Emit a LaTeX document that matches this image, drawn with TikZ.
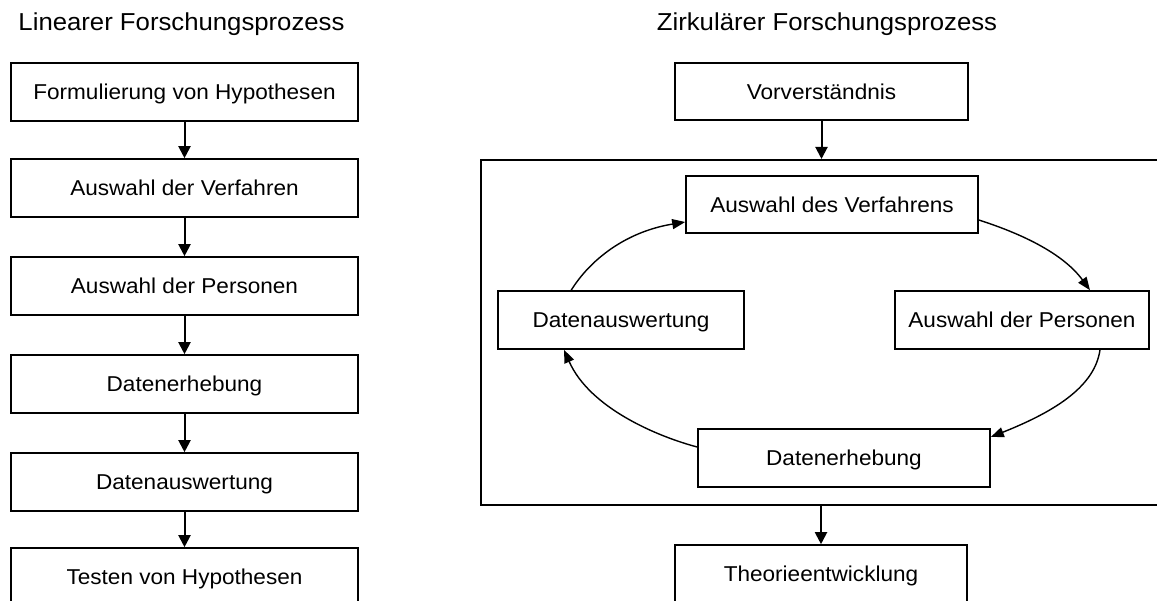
\documentclass[tikz,border=0pt]{standalone}
\usepackage{fontspec}
\setmainfont[FakeStretch=1.05]{Liberation Sans}
\usetikzlibrary{arrows.meta}
\begin{document}
\begin{tikzpicture}[x=1pt,y=-1pt,
  box/.style={draw, line width=1.6pt, minimum height=58pt, inner sep=0pt,
    text height=15.5pt, text depth=0pt, font=\fontsize{21.5}{26}\selectfont},
  flow/.style={line width=2pt, -{Triangle[length=12pt,width=12pt]}},
  cycle/.style={line width=1.4pt, -{Triangle[length=13pt,width=10pt]}},
  heading/.style={font=\fontsize{24.5}{29}\selectfont, anchor=base, inner sep=0pt}]
\useasboundingbox (0,0) rectangle (1157,601);
\clip (0,0) rectangle (1157,601);

% headings
\node[heading] (t1) at (181.5,31) {Linearer Forschungsprozess};
\node[heading] (t2) at (827,31) {Zirkulärer Forschungsprozess};

% linear process
\node[box, minimum width=347pt] (l1) at (184.5,92)  {Formulierung von Hypothesen};
\node[box, minimum width=347pt] (l2) at (184.5,188) {Auswahl der Verfahren};
\node[box, minimum width=347pt] (l3) at (184.5,286) {Auswahl der Personen};
\node[box, minimum width=347pt] (l4) at (184.5,384) {Datenerhebung};
\node[box, minimum width=347pt] (l5) at (184.5,482) {Datenauswertung};
\node[box, minimum width=347pt] (l6) at (184.5,577) {Testen von Hypothesen};
\draw[flow] (l1) -- (l2);
\draw[flow] (l2) -- (l3);
\draw[flow] (l3) -- (l4);
\draw[flow] (l4) -- (l5);
\draw[flow] (l5) -- (l6);

% circular process
\node[box, minimum width=293pt, minimum height=57pt] (vor) at (821.5,91.5) {Vorverständnis};
\node[draw, line width=2pt, inner sep=0pt, minimum width=689pt, minimum height=345pt] (frame) at (825.5,332.5) {};
\node[box, minimum width=292pt, minimum height=57pt] (verf) at (832,204.5) {Auswahl des Verfahrens};
\node[box, minimum width=254pt] (pers) at (1022,320) {Auswahl der Personen};
\node[box, minimum width=246pt] (ausw) at (621,320) {Datenauswertung};
\node[box, minimum width=292pt] (erheb) at (844,458) {Datenerhebung};
\node[box, minimum width=292pt] (theo) at (821,574) {Theorieentwicklung};

\draw[flow] (vor.south) -- (vor.south |- frame.north);
\draw[flow] (theo.north |- frame.south) -- (theo.north);

\draw[cycle] ([xshift=74pt]ausw.north west) .. controls +(18,-29) and +(-61,10) .. ([yshift=-17.5pt]verf.west);
\draw[cycle] ([yshift=-15.5pt]verf.east) .. controls +(31,10) and +(-30,-41) .. ([xshift=68pt]pers.north);
\draw[cycle] ([xshift=78pt]pers.south) .. controls +(-5,35) and +(68,-27) .. ([yshift=21pt]erheb.east);
\draw[cycle] ([yshift=11pt]erheb.west) .. controls +(-38,-10) and +(26,59) .. ([xshift=-57pt]ausw.south);
\end{tikzpicture}
\end{document}
